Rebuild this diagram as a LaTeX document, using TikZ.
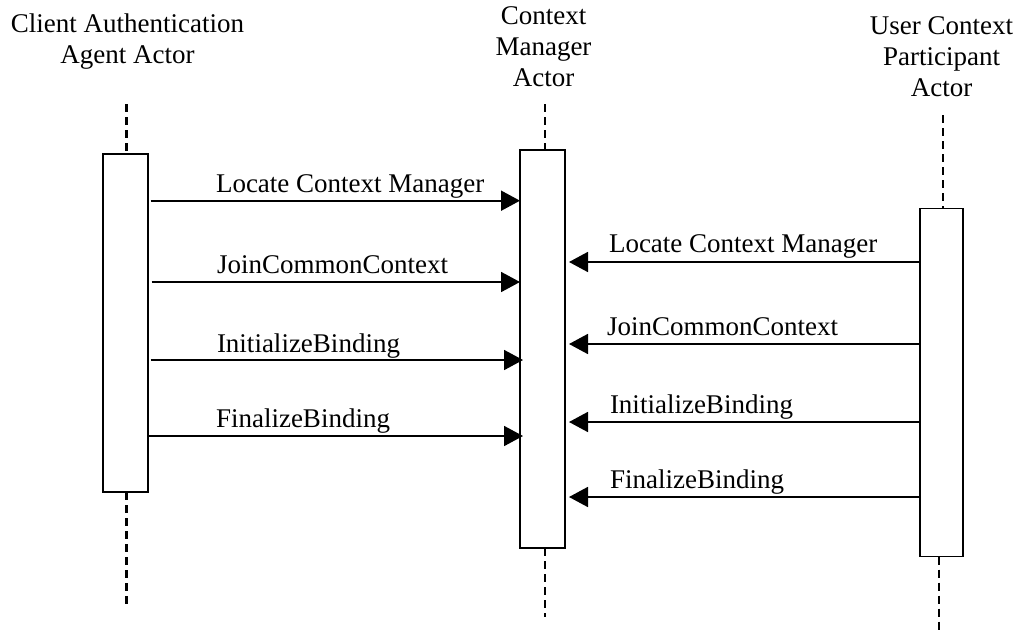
\documentclass[tikz,border=0pt]{standalone}
\usepackage{fontspec}
\setmainfont{Liberation Serif}
\usetikzlibrary{arrows.meta}
\begin{document}
\begin{tikzpicture}[x=1pt,y=-1pt,
  every node/.style={font=\fontsize{27}{31}\selectfont, inner sep=0pt, outer sep=0pt},
  actor/.style={align=center, anchor=north},
  bar/.style={draw, line width=1.8pt, fill=white},
  life/.style={line width=2.2pt, dash pattern=on 8pt off 5pt},
  msg/.style={line width=1.8pt, -{Triangle[length=19pt,width=20pt]}},
  lbl/.style={anchor=base west}]
\useasboundingbox (0,0) rectangle (1025,634);

% actors
\node[actor] (aL) at (127.5,13.5) {Client Authentication\\Agent Actor};
\node[actor] (aM) at (543.5,6.7) {Context\\Manager\\Actor};
\node[actor] (aR) at (941.5,16.7) {User Context\\Participant\\Actor};

% activation bars
\node[bar, minimum width=45pt, minimum height=338pt] (L) at (125.2,323.2) {};
\node[bar, minimum width=45pt, minimum height=398pt] (M) at (542.5,349) {};
\node[bar, minimum width=43pt, minimum height=348pt] (R) at (941.7,382.5) {};

% lifelines
\coordinate (Lt) at (126.5,104);
\coordinate (Lb) at (126.5,609);
\coordinate (Mt) at (545,104);
\coordinate (Mb) at (545,617);
\coordinate (Rt) at (943,115);
\coordinate (Rb) at (939,630);
\draw[life] (Lt) -- (Lt |- L.north);
\draw[life] (Lt |- L.south) -- (Lb);
\draw[life] (Mt) -- (Mt |- M.north);
\draw[life] (Mt |- M.south) -- (Mb);
\draw[life] (Rt) -- (Rt |- R.north);
\draw[life] (Rb |- R.south) -- (Rb);

% messages from client to manager
\draw[msg, shorten <=3pt] (L.east |- 0,200.7) -- (M.west |- 0,200.7);
\draw[msg, shorten <=4pt] (L.east |- 0,282) -- (M.west |- 0,282);
\draw[msg, shorten <=3pt, shorten >=-3pt] (L.east |- 0,360) -- (M.west |- 0,360);
\draw[msg, shorten >=-3pt] (L.east |- 0,436) -- (M.west |- 0,436);
\node[lbl] (t1) at (216,192) {Locate Context Manager};
\node[lbl] (t2) at (217,273) {JoinCommonContext};
\node[lbl] (t3) at (217,352) {InitializeBinding};
\node[lbl] (t4) at (216,427) {FinalizeBinding};

% messages from participant to manager
\draw[msg, shorten >=4pt] (R.west |- 0,262) -- (M.east |- 0,262);
\draw[msg, shorten >=4pt] (R.west |- 0,344) -- (M.east |- 0,344);
\draw[msg, shorten >=4pt] (R.west |- 0,422) -- (M.east |- 0,422);
\draw[msg, shorten >=4pt] (R.west |- 0,497) -- (M.east |- 0,497);
\node[lbl] (u1) at (609,252) {Locate Context Manager};
\node[lbl] (u2) at (607,335) {JoinCommonContext};
\node[lbl] (u3) at (610,413) {InitializeBinding};
\node[lbl] (u4) at (610,488) {FinalizeBinding};
\end{tikzpicture}
\end{document}
